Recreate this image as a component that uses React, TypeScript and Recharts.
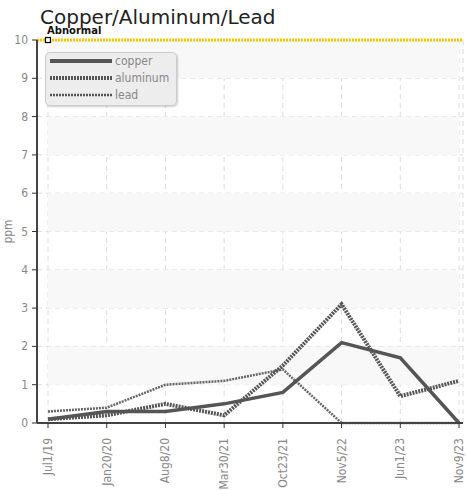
import React from "react";
import {
  LineChart,
  Line,
  XAxis,
  YAxis,
  CartesianGrid,
  ReferenceArea,
  ReferenceLine,
  ReferenceDot,
} from "recharts";

const categories = ["Jul1/19", "Jan20/20", "Aug8/20", "Mar30/21", "Oct23/21", "Nov5/22", "Jun1/23", "Nov9/23"];
const copper = [0.1, 0.3, 0.3, 0.5, 0.8, 2.1, 1.7, 0];
const aluminum = [0.1, 0.2, 0.5, 0.2, 1.5, 3.1, 0.7, 1.1];
const lead = [0.3, 0.4, 1.0, 1.1, 1.4, 0, 0, 0];
const yTicks = [0, 1, 2, 3, 4, 5, 6, 7, 8, 9, 10];
const bands = [
  [1, 2],
  [3, 4],
  [5, 6],
  [7, 8],
  [9, 10],
];
const abnormalLevel = 10;

const data = categories.map((c, i) => ({
  date: c,
  copper: copper[i],
  aluminum: aluminum[i],
  lead: lead[i],
}));

const FONT = "'DejaVu Sans Condensed', 'DejaVu Sans', sans-serif";

const XTick = (props: any) => {
  const { x, y, payload } = props;
  return (
    <text
      x={0}
      y={0}
      transform={`translate(${x + 4},${y + 8}) rotate(-90)`}
      textAnchor="end"
      fontSize={12}
      fill="#888"
      fontFamily={FONT}
      style={{ fontStretch: "condensed" }}
    >
      {payload.value}
    </text>
  );
};

const YTick = (props: any) => {
  const { x, y, payload } = props;
  return (
    <text
      x={x - 2}
      y={y + 4}
      textAnchor="end"
      fontSize={12}
      fill="#888"
      fontFamily={FONT}
      style={{ fontStretch: "condensed" }}
    >
      {payload.value}
    </text>
  );
};

const SquareDot = (props: any) => {
  const { cx, cy } = props;
  return <rect x={cx - 2.5} y={cy - 2.5} width={5} height={5} fill="#fff" stroke="#000" strokeWidth={1.2} />;
};

const legendItems = [
  { name: "copper", width: 4, dash: undefined as string | undefined },
  { name: "aluminum", width: 4, dash: "2 1" },
  { name: "lead", width: 2.5, dash: "2 1" },
];

export default function App() {
  return (
    <div style={{ position: "absolute", left: 0, top: 0, width: 466, height: 491, background: "#fff", overflow: "hidden" }}>
      <div
        style={{
          position: "absolute",
          left: 40,
          top: 5,
          fontFamily: "'DejaVu Sans', sans-serif",
          fontSize: 20,
          color: "#222",
          lineHeight: "24px",
          whiteSpace: "nowrap",
        }}
      >
        Copper/Aluminum/Lead
      </div>
      <LineChart
        width={466}
        height={491}
        data={data}
        margin={{ top: 40, right: 3, bottom: 0, left: 0 }}
        style={{ position: "absolute", left: 0, top: 0 }}
      >
        {bands.map((b, i) => (
          <ReferenceArea key={i} y1={b[0]} y2={b[1]} fill="#f8f8f8" fillOpacity={1} stroke="none" ifOverflow="hidden" />
        ))}
        <CartesianGrid stroke="#dcdcdc" strokeDasharray="5 4" />
        <XAxis
          dataKey="date"
          interval={0}
          padding={{ left: 11, right: 4 }}
          height={68}
          tick={<XTick />}
          tickLine={{ stroke: "#333" }}
          tickSize={5}
          axisLine={{ stroke: "#444", strokeWidth: 2 }}
        />
        <YAxis
          type="number"
          domain={[0, 10]}
          ticks={yTicks}
          interval={0}
          width={37}
          tick={<YTick />}
          tickLine={{ stroke: "#333" }}
          tickSize={5}
          axisLine={{ stroke: "#444", strokeWidth: 2 }}
          label={{
            value: "ppm",
            angle: -90,
            position: "insideLeft",
            offset: 8,
            style: { fill: "#888", fontSize: 12, fontFamily: FONT, textAnchor: "middle" },
          }}
        />
        <ReferenceLine
          y={abnormalLevel}
          stroke="#f7c600"
          strokeWidth={3}
          strokeDasharray="2 1"
          label={{
            value: "Abnormal",
            position: "insideTopLeft",
            offset: 0,
            dx: 10,
            dy: -13,
            style: { fill: "#111", fontSize: 10, fontWeight: "bold", fontFamily: "'DejaVu Sans', sans-serif" },
          }}
        />
        <Line
          type="linear"
          dataKey="lead"
          stroke="#666"
          strokeWidth={2.5}
          strokeDasharray="2 1"
          dot={false}
          isAnimationActive={false}
        />
        <Line
          type="linear"
          dataKey="aluminum"
          stroke="#555"
          strokeWidth={4}
          strokeDasharray="2 1"
          dot={false}
          isAnimationActive={false}
        />
        <Line
          type="linear"
          dataKey="copper"
          stroke="#555"
          strokeWidth={3.5}
          dot={false}
          isAnimationActive={false}
        />
        <ReferenceDot x={categories[0]} y={abnormalLevel} shape={<SquareDot />} />
      </LineChart>
      <div
        style={{
          position: "absolute",
          left: 45,
          top: 52,
          width: 132,
          height: 54,
          background: "rgba(235,235,235,0.9)",
          border: "1px solid #ccc",
          borderRadius: 5,
          boxShadow: "1px 1px 2px rgba(0,0,0,0.2)",
          boxSizing: "border-box",
          paddingTop: 0,
        }}
      >
        {legendItems.map((it, i) => (
          <div key={it.name} style={{ display: "flex", alignItems: "center", height: 17, marginTop: i === 0 ? -1 : 0 }}>
            <svg width={66} height={10} style={{ marginLeft: 2 }}>
              <line x1={2} y1={5} x2={64} y2={5} stroke="#555" strokeWidth={it.width} strokeDasharray={it.dash} />
            </svg>
            <span style={{ fontFamily: FONT, fontStretch: "condensed", fontSize: 12, color: "#888", marginLeft: 1 }}>
              {it.name}
            </span>
          </div>
        ))}
      </div>
    </div>
  );
}
